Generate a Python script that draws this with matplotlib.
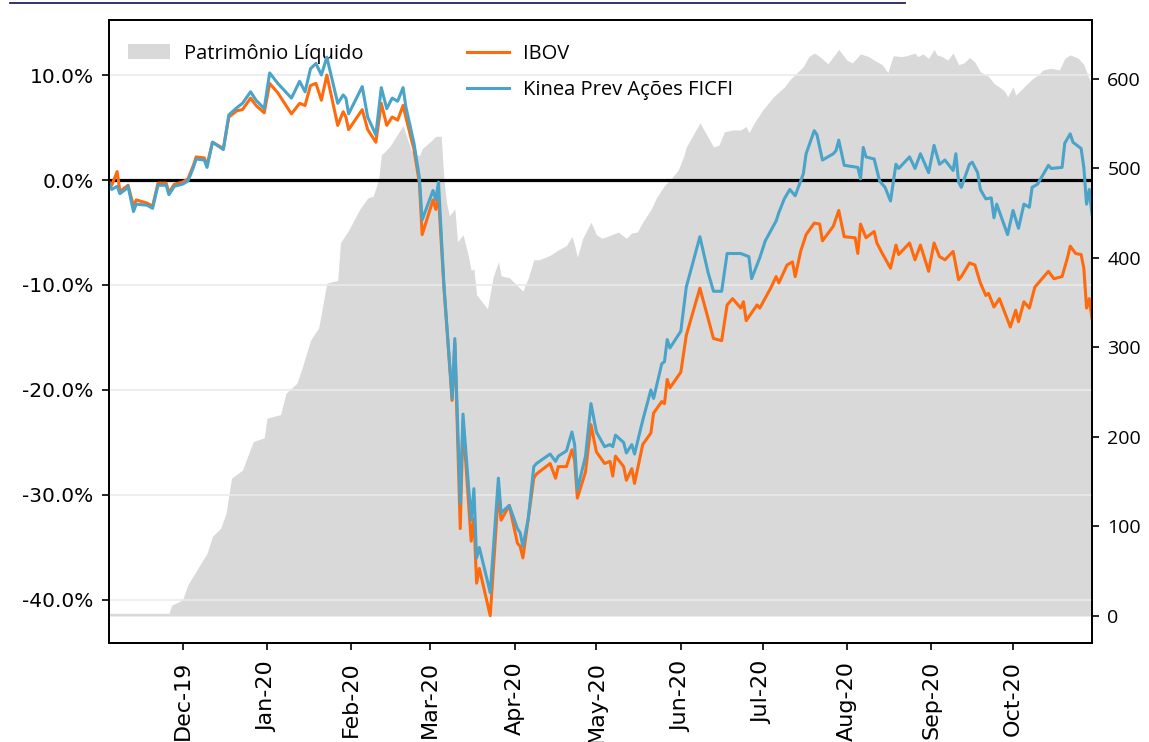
import matplotlib
matplotlib.use("Agg")
import matplotlib.pyplot as plt
import matplotlib.dates as mdates
from matplotlib.lines import Line2D
from matplotlib.ticker import FuncFormatter, MultipleLocator
import pandas as pd

plt.rcParams["font.family"] = ["Open Sans", "DejaVu Sans"]

# shared dates for both return lines (Nov-19 .. early Jun-20)
dates_head = [
    "2019-11-04", "2019-11-05", "2019-11-07", "2019-11-08", "2019-11-10", "2019-11-11", "2019-11-13",
    "2019-11-14", "2019-11-18", "2019-11-20", "2019-11-22", "2019-11-25", "2019-11-26", "2019-11-28",
    "2019-12-01", "2019-12-03", "2019-12-05", "2019-12-06", "2019-12-09", "2019-12-10", "2019-12-12",
    "2019-12-16", "2019-12-18", "2019-12-21", "2019-12-23", "2019-12-26", "2019-12-28", "2019-12-31",
    "2020-01-02", "2020-01-05", "2020-01-10", "2020-01-13", "2020-01-15", "2020-01-17", "2020-01-19",
    "2020-01-21", "2020-01-23", "2020-01-27", "2020-01-29", "2020-01-30", "2020-01-31",
    "2020-02-05", "2020-02-07", "2020-02-10", "2020-02-12", "2020-02-14", "2020-02-16", "2020-02-18",
    "2020-02-20", "2020-02-21", "2020-02-24", "2020-02-26", "2020-02-27",
    "2020-03-02", "2020-03-03", "2020-03-04", "2020-03-06", "2020-03-09", "2020-03-10", "2020-03-12",
    "2020-03-13", "2020-03-16", "2020-03-17", "2020-03-18", "2020-03-19", "2020-03-23", "2020-03-26",
    "2020-03-27", "2020-03-30",
    "2020-04-02", "2020-04-03", "2020-04-04", "2020-04-06", "2020-04-08", "2020-04-09", "2020-04-14",
    "2020-04-16", "2020-04-17", "2020-04-20", "2020-04-22", "2020-04-23", "2020-04-24", "2020-04-27",
    "2020-04-29",
    "2020-05-01", "2020-05-04", "2020-05-06", "2020-05-07", "2020-05-08", "2020-05-11", "2020-05-12",
    "2020-05-14", "2020-05-15", "2020-05-18", "2020-05-21", "2020-05-22", "2020-05-25", "2020-05-26",
    "2020-05-27", "2020-05-28",
    "2020-06-01", "2020-06-03", "2020-06-08",
]

kinea_head = [
    -0.3, -0.9, -0.6, -1.3, -0.9, -0.6, -3.0, -2.3, -2.4, -2.7, -0.5, -0.5, -1.4, -0.6,
    -0.4, -0.1, 1.2, 2.0, 1.9, 1.2, 3.6, 2.9, 6.2, 6.9, 7.3, 8.4, 7.6, 6.8,
    10.2, 9.2, 7.8, 9.4, 8.4, 10.6, 11.1, 10.0, 11.7, 7.3, 8.1, 7.8, 6.3,
    8.9, 6.0, 4.3, 8.8, 6.8, 7.8, 7.5, 8.8, 7.0, 3.5, 0.2, -3.8,
    -1.0, -1.9, -0.2, -10.0, -20.8, -15.1, -30.8, -22.3, -32.4, -29.4, -36.0, -35.0, -39.3, -28.4,
    -31.7, -31.0,
    -33.2, -33.6, -34.9, -32.2, -27.3, -27.0, -26.1, -26.8, -26.3, -25.8, -24.0, -25.2, -29.5, -26.3,
    -21.3,
    -24.0, -25.4, -25.2, -25.4, -24.3, -25.0, -26.0, -25.2, -26.1, -22.9, -20.0, -20.8, -17.5, -17.3,
    -15.2, -16.0,
    -14.4, -10.2, -5.4,
]

ibov_head = [
    -0.2, -0.5, 0.8, -1.1, -0.7, -0.5, -2.5, -1.9, -2.2, -2.5, -0.3, -0.3, -1.2, -0.4,
    -0.2, 0.1, 1.4, 2.2, 2.1, 1.4, 3.6, 3.0, 6.0, 6.6, 6.7, 7.8, 7.1, 6.4,
    9.2, 8.3, 6.3, 7.3, 7.1, 9.0, 9.2, 7.6, 10.0, 5.2, 6.5, 6.0, 4.8,
    6.7, 4.8, 3.6, 7.3, 5.2, 6.0, 5.7, 7.1, 6.0, 2.9, -0.3, -5.2,
    -1.9, -2.8, -1.5, -10.2, -21.0, -15.5, -33.2, -23.0, -34.4, -32.2, -38.4, -37.0, -41.5, -29.8,
    -32.4, -31.0,
    -34.6, -34.9, -36.0, -32.2, -28.4, -28.0, -27.0, -28.4, -27.3, -27.3, -25.7, -26.7, -30.3, -27.8,
    -23.3,
    -25.9, -27.0, -26.8, -28.2, -26.3, -27.3, -28.6, -27.5, -28.9, -25.2, -24.1, -22.2, -21.1, -21.3,
    -19.0, -19.8,
    -18.3, -14.8, -10.3,
]

kinea_tail_dates = [
    "2020-06-11", "2020-06-13", "2020-06-16", "2020-06-18", "2020-06-20", "2020-06-23", "2020-06-26",
    "2020-06-27", "2020-06-30", "2020-07-02", "2020-07-06", "2020-07-07", "2020-07-09", "2020-07-11",
    "2020-07-13", "2020-07-16", "2020-07-17", "2020-07-20", "2020-07-21", "2020-07-23", "2020-07-27",
    "2020-07-28", "2020-07-29", "2020-07-31", "2020-08-05", "2020-08-06", "2020-08-07", "2020-08-08",
    "2020-08-11", "2020-08-13", "2020-08-15", "2020-08-17", "2020-08-19", "2020-08-20", "2020-08-24",
    "2020-08-26", "2020-08-28", "2020-08-31", "2020-09-02", "2020-09-04", "2020-09-06", "2020-09-09",
    "2020-09-10", "2020-09-11", "2020-09-12", "2020-09-15", "2020-09-16", "2020-09-18", "2020-09-19",
    "2020-09-21", "2020-09-23", "2020-09-24", "2020-09-25", "2020-09-29", "2020-10-01", "2020-10-03",
    "2020-10-05", "2020-10-07", "2020-10-08", "2020-10-10", "2020-10-14", "2020-10-15", "2020-10-19",
    "2020-10-20", "2020-10-22", "2020-10-23", "2020-10-26", "2020-10-27", "2020-10-28", "2020-10-29",
    "2020-10-30",
]
kinea_tail = [
    -8.8, -10.6, -10.6, -7.0, -7.0, -7.0, -7.3,
    -9.4, -7.4, -5.8, -3.9, -3.1, -1.8, -0.9,
    -1.5, 0.6, 2.5, 4.7, 4.3, 1.9, 2.5,
    2.8, 3.8, 1.4, 1.2, 0.1, 3.1, 2.2,
    2.0, -0.1, -0.7, -2.0, 1.5, 1.1, 2.2,
    1.1, 2.5, 0.7, 3.3, 1.5, 1.9, 0.9,
    2.5, -0.2, -0.7, 1.5, 1.7, 0.7, -0.9,
    -1.8, -1.7, -3.6, -2.3, -5.2, -2.9, -4.6,
    -2.3, -2.6, -0.7, -0.4, 1.4, 1.1, 1.2,
    3.5, 4.4, 3.6, 3.0, 1.2, -2.3, -0.9,
    -3.3,
]

ibov_tail_dates = [
    "2020-06-11", "2020-06-13", "2020-06-16", "2020-06-18", "2020-06-20", "2020-06-23", "2020-06-24",
    "2020-06-25", "2020-06-29", "2020-06-30", "2020-07-04", "2020-07-06", "2020-07-07", "2020-07-10",
    "2020-07-12", "2020-07-13", "2020-07-15", "2020-07-17", "2020-07-20", "2020-07-22", "2020-07-23",
    "2020-07-27", "2020-07-29", "2020-07-31", "2020-08-04", "2020-08-05", "2020-08-06", "2020-08-08",
    "2020-08-11", "2020-08-12", "2020-08-14", "2020-08-17", "2020-08-19", "2020-08-20", "2020-08-24",
    "2020-08-26", "2020-08-28", "2020-08-31", "2020-09-02", "2020-09-04", "2020-09-06", "2020-09-09",
    "2020-09-11", "2020-09-12", "2020-09-15", "2020-09-17", "2020-09-19", "2020-09-21", "2020-09-22",
    "2020-09-24", "2020-09-26", "2020-09-30", "2020-10-02", "2020-10-03", "2020-10-05", "2020-10-07",
    "2020-10-09", "2020-10-14", "2020-10-16", "2020-10-19", "2020-10-21", "2020-10-22", "2020-10-24",
    "2020-10-26", "2020-10-27", "2020-10-28", "2020-10-29", "2020-10-30",
]
ibov_tail = [
    -13.2, -15.1, -15.3, -11.9, -11.3, -12.2, -11.6,
    -13.4, -11.9, -12.2, -10.3, -9.2, -9.8, -8.1,
    -7.8, -9.2, -6.8, -5.2, -4.1, -4.2, -5.8,
    -4.4, -2.9, -5.4, -5.5, -7.0, -4.2, -5.5,
    -4.9, -6.0, -7.0, -8.4, -6.2, -7.1, -6.0,
    -7.6, -6.2, -8.7, -6.0, -7.3, -7.6, -6.8,
    -9.5, -9.2, -7.9, -8.1, -9.8, -11.0, -10.8,
    -12.1, -11.3, -14.0, -12.4, -13.5, -11.6, -12.2,
    -10.2, -8.7, -9.4, -9.2, -7.4, -6.3, -7.0,
    -7.1, -8.4, -12.2, -11.3, -13.2,
]

# Patrimonio Liquido (right axis, R$ mm)
pl_dates = [
    "2019-11-04", "2019-11-26", "2019-11-27", "2019-12-01", "2019-12-03", "2019-12-06", "2019-12-10",
    "2019-12-12", "2019-12-15", "2019-12-17", "2019-12-19", "2019-12-23", "2019-12-27", "2019-12-31",
    "2020-01-01", "2020-01-06", "2020-01-08", "2020-01-12", "2020-01-14", "2020-01-17", "2020-01-20",
    "2020-01-23", "2020-01-27", "2020-01-28", "2020-01-31", "2020-02-04", "2020-02-07", "2020-02-09",
    "2020-02-11", "2020-02-12", "2020-02-15", "2020-02-20", "2020-02-23", "2020-02-26", "2020-02-27",
    "2020-03-01", "2020-03-03", "2020-03-05", "2020-03-06", "2020-03-07", "2020-03-08", "2020-03-10",
    "2020-03-11", "2020-03-13", "2020-03-15", "2020-03-16", "2020-03-17", "2020-03-18", "2020-03-20",
    "2020-03-22", "2020-03-24", "2020-03-26", "2020-03-27", "2020-03-30", "2020-04-02", "2020-04-04",
    "2020-04-06", "2020-04-08", "2020-04-10", "2020-04-14", "2020-04-17", "2020-04-20", "2020-04-22",
    "2020-04-23", "2020-04-24", "2020-04-26", "2020-04-29", "2020-05-01", "2020-05-03", "2020-05-05",
    "2020-05-09", "2020-05-12", "2020-05-14", "2020-05-16", "2020-05-18", "2020-05-21", "2020-05-23",
    "2020-05-26", "2020-05-28", "2020-05-31", "2020-06-02", "2020-06-03", "2020-06-06", "2020-06-08",
    "2020-06-11", "2020-06-13", "2020-06-15", "2020-06-17", "2020-06-20", "2020-06-23", "2020-06-25",
    "2020-06-26", "2020-06-28", "2020-07-01", "2020-07-05", "2020-07-09", "2020-07-11", "2020-07-14",
    "2020-07-16", "2020-07-18", "2020-07-20", "2020-07-22", "2020-07-25", "2020-07-27", "2020-07-29",
    "2020-08-01", "2020-08-03", "2020-08-06", "2020-08-09", "2020-08-11", "2020-08-14", "2020-08-16",
    "2020-08-18", "2020-08-21", "2020-08-23", "2020-08-26", "2020-08-27", "2020-08-29", "2020-08-31",
    "2020-09-02", "2020-09-03", "2020-09-05", "2020-09-07", "2020-09-09", "2020-09-11", "2020-09-13",
    "2020-09-15", "2020-09-17", "2020-09-19", "2020-09-22", "2020-09-24", "2020-09-26", "2020-09-28",
    "2020-09-29", "2020-10-01", "2020-10-02", "2020-10-05", "2020-10-08", "2020-10-10", "2020-10-12",
    "2020-10-15", "2020-10-18", "2020-10-20", "2020-10-22", "2020-10-25", "2020-10-27", "2020-10-29",
    "2020-10-30",
]
pl_values = [
    3, 3, 12, 18, 35, 50, 70,
    89, 98, 115, 154, 163, 195, 199,
    221, 225, 249, 260, 278, 308, 322,
    372, 375, 417, 431, 454, 467, 469,
    487, 515, 524, 548, 520, 514, 522,
    530, 536, 536, 487, 461, 447, 455,
    418, 426, 402, 386, 388, 359, 351,
    343, 378, 396, 380, 378, 369, 363,
    378, 398, 398, 403, 409, 414, 424,
    414, 401, 422, 440, 426, 422, 424,
    429, 422, 428, 429, 440, 454, 467,
    481, 487, 498, 513, 524, 540, 551,
    535, 524, 526, 541, 543, 543, 547,
    540, 551, 565, 580, 591, 599, 608,
    614, 625, 629, 625, 617, 625, 633,
    621, 618, 628, 625, 621, 616, 607,
    626, 625, 626, 629, 625, 628, 623,
    633, 627, 625, 621, 629, 616, 618,
    624, 619, 608, 603, 595, 591, 586,
    580, 591, 582, 591, 600, 604, 610,
    612, 610, 623, 627, 623, 616, 600,
    593,
]

kinea_dates = pd.to_datetime(dates_head + kinea_tail_dates)
ibov_dates = pd.to_datetime(dates_head + ibov_tail_dates)
kinea = kinea_head + kinea_tail
ibov = ibov_head + ibov_tail
pl_dt = pd.to_datetime(pl_dates)

fig = plt.figure(figsize=(11.49, 7.42), dpi=100)
ax = fig.add_axes([109 / 1149, 1 - 643 / 742, 983 / 1149, 623 / 742])
ax2 = ax.twinx()
ax.set_zorder(ax2.get_zorder() + 1)
ax.patch.set_visible(False)

# fund equity as grey area on the right axis
ax2.fill_between(pl_dt, 0, pl_values, color="#d9d9d9", lw=0, label="Patrimônio Líquido")
ax2.set_ylim(-30.2, 665.9)
ax2.yaxis.set_major_locator(MultipleLocator(100))

ax.grid(axis="y", color="#ebebeb", lw=1.2)
ax.set_axisbelow(True)
ax.axhline(0, color="black", lw=2.3, zorder=1.5)
ax.plot(ibov_dates, ibov, color="#ff6a0d", lw=2.2, label="IBOV")
ax.plot(kinea_dates, kinea, color="#4aa3c8", lw=2.2, label="Kinea Prev Ações FICFI")

ax.set_ylim(-44.1, 15.24)
ax.yaxis.set_major_locator(MultipleLocator(10))
ax.yaxis.set_major_formatter(FuncFormatter(lambda v, p: f"{v:.1f}%"))
ax.set_xlim(kinea_dates[0], kinea_dates[-1])
ax.xaxis.set_major_locator(mdates.MonthLocator())
ax.xaxis.set_major_formatter(mdates.DateFormatter("%b-%y"))

for a in (ax, ax2):
    for s in a.spines.values():
        s.set_linewidth(1.3)
ax.tick_params(axis="y", length=5, width=1.2, pad=6)
ax2.tick_params(axis="y", labelsize=14, length=5, width=1.2, pad=6)
ax.tick_params(axis="x", length=5, width=1.2, pad=8)
for lbl in ax.get_yticklabels():
    lbl.set_fontfamily("DejaVu Sans")
    lbl.set_fontsize(14.5)
for lbl in ax.get_xticklabels():
    lbl.set_rotation(90)
    lbl.set_fontfamily("DejaVu Sans")
    lbl.set_fontsize(16)

ax2.legend(loc="upper left", bbox_to_anchor=(0.0193, 0.962), frameon=False, fontsize=14.5,
           borderpad=0, borderaxespad=0, handlelength=2.1, handleheight=0.8, handletextpad=0.7)
ax.legend(loc="upper left", bbox_to_anchor=(0.364, 0.962), frameon=False, fontsize=14.5,
          borderpad=0, borderaxespad=0, handlelength=2.1, handletextpad=0.7, labelspacing=0.82)

# remnant of the cropped title underline
fig.add_artist(Line2D([10 / 1149, 905 / 1149], [1 - 3 / 742, 1 - 3 / 742],
                      color="#23235a", lw=1.3, transform=fig.transFigure))

fig.savefig("out.png", dpi=100)
